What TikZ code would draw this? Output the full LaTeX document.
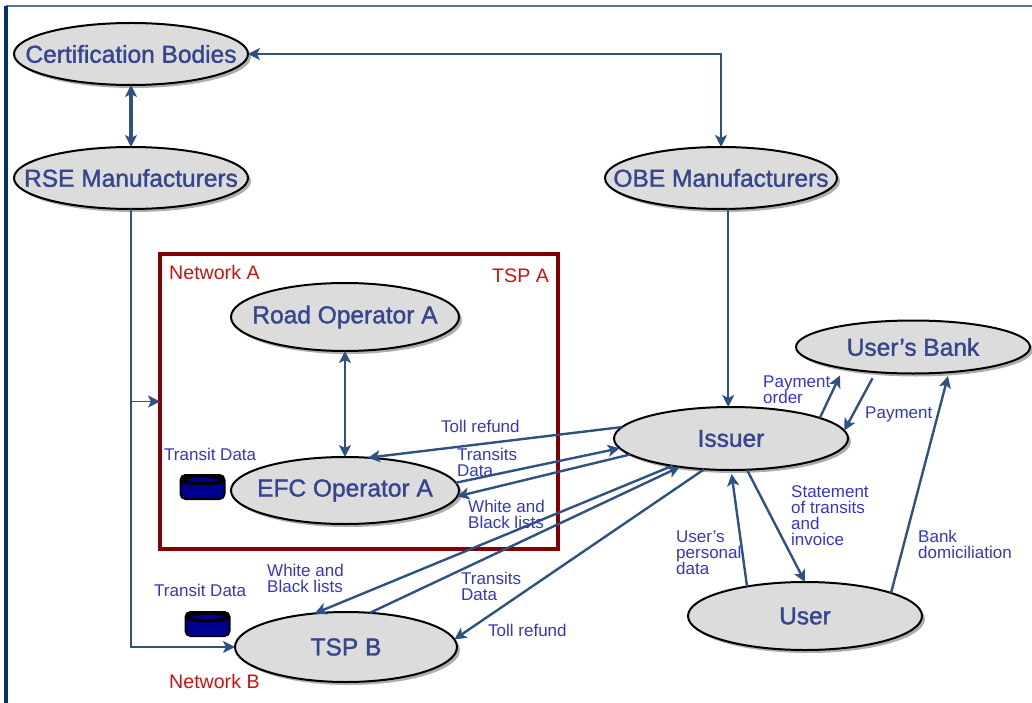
\documentclass[tikz,border=0pt]{standalone}
\usepackage{fontspec}
\setmainfont{Liberation Sans}
\newfontfamily\ovalfont{Liberation Sans}[FakeBold=1.4]
\usetikzlibrary{arrows.meta}
\usetikzlibrary{shadows}
\usetikzlibrary{shapes.geometric}
\definecolor{linkblue}{HTML}{2F5283}
\definecolor{ovalgray}{HTML}{DCDCDC}
\definecolor{ovaltext}{HTML}{35468F}
\definecolor{notetext}{HTML}{3535C8}
\definecolor{boxred}{HTML}{840000}
\definecolor{netred}{HTML}{CC1111}
\definecolor{stacknavy}{HTML}{00008E}
\tikzset{
      oval/.style={ellipse, draw=black, line width=2, fill=ovalgray, inner xsep=-70, inner ysep=0, outer sep=0,
            text=ovaltext, font=\ovalfont\fontsize{24.5}{27}\selectfont,
            drop shadow={shadow xshift=3, shadow yshift=3, fill=black!45, opacity=.7}},
      link/.style={draw=linkblue, line width=1.6, -{Stealth[length=12,width=12,inset=3]}},
      flow/.style={link, line width=2.4},
      both/.style={{Stealth[length=12,width=12,inset=3]}-{Stealth[length=12,width=12,inset=3]}},
      note/.style={anchor=west, align=left, inner sep=0, text=notetext,
            font=\fontsize{17}{16}\selectfont},
      net/.style={anchor=west, inner sep=0, text=netred, font=\fontsize{19.6}{21}\selectfont},
      stack/.pic={
            \draw[draw=black, line width=2, fill=stacknavy, rounded corners=5] (-22,-12) rectangle (22,12);
            \fill[black, rounded corners=4] (-22,-12) -- (22,-12) -- (22,-4) .. controls (8,-1) and (-8,-1) .. (-22,-4) -- cycle;
            \fill[stacknavy] (0,-7) ellipse (16 and 2);
      },
}
\begin{document}
\begin{tikzpicture}[x=1pt, y=-1pt]
        \useasboundingbox (0,0) rectangle (1032,703);

        % Page frame
        \coordinate (framecorner) at (6,6);
        \coordinate (frameright) at (1032,6);
        \coordinate (framebottom) at (6,703);
        \draw[draw=linkblue!80, line width=1.8] (framecorner) -- (frameright);
        \draw[draw=linkblue!120, line width=3.2] (framecorner) -- (framebottom);

        % Network box
        \node[draw=boxred, line width=4, minimum width=398, minimum height=295, inner sep=0, outer sep=0] (tspa) at (359,401.5) {};

        % Actors
        \node[oval, minimum width=234, minimum height=62] (cert) at (131,54) {Certification Bodies};
        \node[oval, minimum width=234, minimum height=62] (rse) at (131,178) {RSE Manufacturers};
        \node[oval, minimum width=232, minimum height=62] (obe) at (721,178) {OBE Manufacturers};
        \node[oval, minimum width=228, minimum height=68] (road) at (345,317) {Road Operator A};
        \node[oval, minimum width=228, minimum height=67] (efc) at (345,490.5) {EFC Operator A};
        \node[oval, minimum width=222, minimum height=70] (tspb) at (346,647) {TSP B};
        \node[oval, minimum width=234, minimum height=63] (issuer) at (731,438.5) {Issuer};
        \node[oval, minimum width=234, minimum height=53] (bank) at (913,347) {User’s Bank};
        \node[oval, minimum width=234, minimum height=68] (user) at (805,616) {User};

        % Transit data stores
        \pic (storea) at (202.5,487) {stack};
        \pic (storeb) at (207.5,624) {stack};

        % Suppliers
        \draw[link, both] (cert.east) -| (obe.north);
        \draw[flow, line width=3.4, both] (cert.south) -- (rse.north);
        \draw[link] (rse.south) |- (tspb.west);
        \draw[link] (rse.south |- tspa.west) -- (tspa.west);
        \draw[link] (obe.south -| issuer.95) -- (issuer.95);
        \draw[link, both] (road.south) -- (efc.north);

        % Issuer and network A
        \draw[flow] (issuer.174) -- (efc.55);
        \draw[flow] (efc.4) -- (issuer.185);
        \draw[flow] (issuer.189) -- (efc.357);

        % Issuer and TSP B
        \draw[flow] (issuer.205) -- (tspb.133);
        \draw[flow] (tspb.55) -- (issuer.209);
        \draw[flow] (issuer.229) -- (tspb.4);

        % Issuer, bank and user
        \draw[flow, shorten >=8] (issuer.13) -- (bank.197);
        \draw[flow, shorten <=7] (bank.214) -- (issuer.4);
        \draw[flow, shorten >=4] (user.153) -- (issuer.270);
        \draw[flow] (issuer.297) -- (user.90);
        \draw[flow, shorten >=4] (user.15) -- (bank.325);

        % Labels
        \node[net] (neta) at (169,272) {Network A};
        \node[net] (tspalabel) at (492,276) {TSP A};
        \node[net] (netb) at (169,681) {Network B};
        \node[note] (dataa) at (164,454) {Transit Data};
        \node[note] (datab) at (154,590) {Transit Data};
        \node[note] (refunda) at (441,426) {Toll refund};
        \node[note] (transitsa) at (457,462) {Transits\\Data};
        \node[note] (listsa) at (468,514) {White and\\Black lists};
        \node[note] (listsb) at (267,578) {White and\\Black lists};
        \node[note] (transitsb) at (461,586) {Transits\\Data};
        \node[note] (refundb) at (488,630) {Toll refund};
        \node[note] (order) at (763,390) {Payment\\order};
        \node[note] (payment) at (865,414) {Payment};
        \node[note] (statement) at (791,516) {Statement\\of transits\\and\\invoice};
        \node[note] (personal) at (676,553) {User’s\\personal\\data};
        \node[note] (domicile) at (918,544) {Bank\\domiciliation};

    \end{tikzpicture}
\end{document}
